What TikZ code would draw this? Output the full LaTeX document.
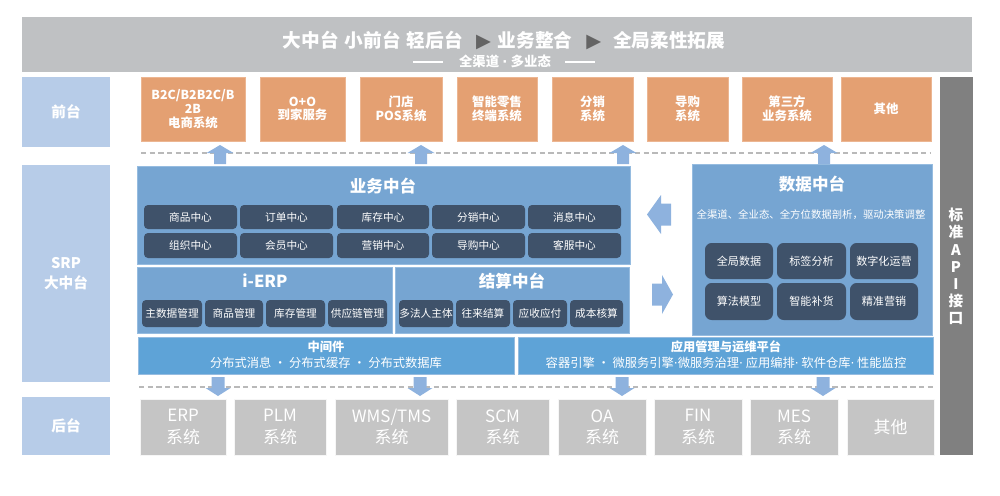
\documentclass[tikz,border=0pt]{standalone}
\usepackage{fontspec}
\setmainfont{Noto Sans CJK SC}
\newfontfamily\djv{DejaVu Sans}
\definecolor{bannerc}{RGB}{191,193,195}
\definecolor{lblue}{RGB}{183,204,232}
\definecolor{orangec}{RGB}{228,160,114}
\definecolor{orangeb}{RGB}{236,182,146}
\definecolor{bluec}{RGB}{118,165,210}
\definecolor{blueb}{RGB}{150,188,224}
\definecolor{darkc}{RGB}{63,82,106}
\definecolor{midc}{RGB}{94,163,215}
\definecolor{grayc}{RGB}{197,197,197}
\definecolor{apic}{RGB}{128,128,128}
\definecolor{arrowc}{RGB}{142,178,222}
\definecolor{dashc}{RGB}{185,185,185}
\definecolor{tric}{RGB}{100,100,100}
\newcommand\upArr[1]{\fill[arrowc] ({#1-6},164) -- ({#1-6},153) -- ({#1-13.5},153) -- (#1,145) -- ({#1+13.5},153) -- ({#1+6},153) -- ({#1+6},164) -- cycle;}
\newcommand\dnArr[1]{\fill[arrowc] ({#1-6.5},377) -- ({#1-6.5},388) -- ({#1-12.5},388) -- (#1,396) -- ({#1+12.5},388) -- ({#1+6.5},388) -- ({#1+6.5},377) -- cycle;}
% box from pixel corners: style, name, x1, y1, x2, y2, text
\newcommand\bx[7]{\node[#1, minimum width={(#5-#3)*0.75pt}, minimum height={(#6-#4)*0.75pt}] (#2) at ({(#3+#5)/2},{(#4+#6)/2}) {#7};}
\newcommand\tri{{\djv\fontsize{14.5}{14.5}\selectfont\color{tric}▶}}
\newcommand\ndot{{\djv·}}
\begin{document}
\begin{tikzpicture}[x=0.75pt,y=-0.75pt,
  lbl/.style={fill=lblue, text=white, font=\bfseries\fontsize{11}{15}\selectfont, inner sep=0pt, align=center},
  obox/.style={fill=orangec, draw=orangeb, line width=0.6pt, text=white, font=\bfseries\fontsize{9.3}{10.3}\selectfont, align=center, inner sep=0pt},
  bigb/.style={fill=bluec, draw=blueb, line width=0.5pt, inner sep=0pt},
  dbox/.style={fill=darkc, rounded corners=3pt, text=white, font=\fontsize{8}{9}\selectfont, inner sep=0pt},
  ddbox/.style={fill=darkc, rounded corners=5pt, text=white, font=\fontsize{8.3}{10}\selectfont, inner sep=0pt},
  ttl/.style={text=white, font=\bfseries\fontsize{12.4}{14}\selectfont, inner sep=0pt},
  mbox/.style={fill=midc, draw=blueb, line width=0.5pt, inner sep=0pt},
  mtxt/.style={text=white, align=center, font=\fontsize{9.2}{12}\selectfont, inner sep=0pt},
  gbox/.style={fill=grayc, draw=white!85!grayc, line width=0.5pt, text=white, font=\fontsize{12.7}{16}\selectfont, align=center, inner sep=0pt},
  dsh/.style={draw=dashc, line width=0.8pt, dash pattern=on 4pt off 2.5pt},
  wline/.style={draw=white, line width=0.8pt}]
\useasboundingbox (0,0) rectangle (1000,496);
% banner
\bx{fill=bannerc, inner sep=0pt}{banner}{22}{17}{972}{72}{}
\node[text=white, font=\bfseries\fontsize{14}{16}\selectfont, inner sep=0pt] (title) at (504,40) {大中台\hspace{4.5pt}小前台\hspace{4.5pt}轻后台\hspace{10pt}\tri\hspace{5pt}业务整合\hspace{10.5pt}\tri\hspace{9pt}全局柔性拓展};
\node[text=white, font=\bfseries\fontsize{10}{12}\selectfont, inner sep=0pt] (subtitle) at (505,61.5) {全渠道\hspace{2.5pt}\ndot\hspace{2.5pt}多业态};
\coordinate (sl1) at (413,62);
\coordinate (sl2) at (443,62);
\coordinate (sr1) at (565,62);
\coordinate (sr2) at (595,62);
\draw[wline] (sl1) -- (sl2);
\draw[wline] (sr1) -- (sr2);
% left labels
\bx{lbl}{front}{22}{77}{110}{147}{前台}
\bx{lbl}{srp}{22}{165}{110}{382}{SRP\\大中台}
\bx{lbl}{back}{22}{397}{110}{455}{后台}
% API bar
\bx{fill=apic, inner sep=0pt}{apibar}{940}{77}{973}{455}{}
\node[text=white, font=\bfseries\fontsize{11}{12.9}\selectfont, align=center, inner sep=0pt] (apitext) at (956,266.5) {标\\准\\A\\P\\I\\接\\口};
% front boxes
\bx{obox}{f1}{141}{77}{245}{141}{B2C/B2B2C/B\\2B\\电商系统}
\bx{obox}{f2}{260}{77}{345}{141}{O+O\\到家服务}
\bx{obox}{f3}{360}{77}{442}{141}{门店\\POS系统}
\bx{obox}{f4}{457}{77}{537}{141}{智能零售\\终端系统}
\bx{obox}{f5}{552}{77}{633}{141}{分销\\系统}
\bx{obox}{f6}{647}{77}{728}{141}{导购\\系统}
\bx{obox}{f7}{742}{77}{832}{141}{第三方\\业务系统}
\bx{obox}{f8}{841}{77}{931}{141}{其他}
% dashed line top
\coordinate (dt1) at (141,153);
\coordinate (dt2) at (931,153);
\draw[dsh] (dt1) -- (dt2);
% business middle
\bx{bigb}{biz}{137}{166}{630}{264}{}
\node[ttl] (biztitle) at (383,186) {业务中台};
\bx{dbox}{b1}{144}{205}{237}{229}{商品中心}
\bx{dbox}{b2}{240}{205}{333}{229}{订单中心}
\bx{dbox}{b3}{337}{205}{429}{229}{库存中心}
\bx{dbox}{b4}{432}{205}{525}{229}{分销中心}
\bx{dbox}{b5}{528}{205}{621}{229}{消息中心}
\bx{dbox}{b6}{144}{233}{237}{258}{组织中心}
\bx{dbox}{b7}{240}{233}{333}{258}{会员中心}
\bx{dbox}{b8}{337}{233}{429}{258}{营销中心}
\bx{dbox}{b9}{432}{233}{525}{258}{导购中心}
\bx{dbox}{b10}{528}{233}{621}{258}{客服中心}
% i-ERP
\bx{bigb}{ierp}{137}{267}{392}{333}{}
\node[ttl] (ierptitle) at (265,281) {i-ERP};
\bx{dbox}{e1}{142}{300}{202}{327}{主数据管理}
\bx{dbox}{e2}{205}{300}{263}{327}{商品管理}
\bx{dbox}{e3}{266}{300}{325}{327}{库存管理}
\bx{dbox}{e4}{328}{300}{387}{327}{供应链管理}
% settlement
\bx{bigb}{settle}{395}{267}{629}{333}{}
\node[ttl] (settletitle) at (512,281) {结算中台};
\bx{dbox}{s1}{399}{300}{453}{327}{多法人主体}
\bx{dbox}{s2}{456}{300}{510}{327}{往来结算}
\bx{dbox}{s3}{513}{300}{567}{327}{应收应付}
\bx{dbox}{s4}{570}{300}{623}{327}{成本核算}
% data middle
\bx{bigb}{data}{692}{164}{932}{335}{}
\node[ttl] (datatitle) at (812,184) {数据中台};
\node[text=white, font=\fontsize{7.8}{9}\selectfont, inner sep=0pt] (datasub) at (811,215) {全渠道、全业态、全方位数据剖析，驱动决策调整};
\bx{ddbox}{d1}{705}{243}{773}{279}{全局数据}
\bx{ddbox}{d2}{777}{243}{846}{279}{标签分析}
\bx{ddbox}{d3}{850}{243}{918}{279}{数字化运营}
\bx{ddbox}{d4}{705}{283}{773}{320}{算法模型}
\bx{ddbox}{d5}{777}{283}{846}{320}{智能补货}
\bx{ddbox}{d6}{850}{283}{918}{320}{精准营销}
% side arrows
\fill[arrowc] (647,214.5) -- (661,195) -- (661,203.5) -- (671,203.5) -- (671,225.5) -- (661,225.5) -- (661,234) -- cycle;
\fill[arrowc] (673,294.5) -- (662,275) -- (662,283.5) -- (652,283.5) -- (652,305.5) -- (662,305.5) -- (662,314) -- cycle;
% middleware
\bx{mbox}{mid}{138}{337}{514}{374}{}
\node[mtxt] (midtext) at (326,355) {\textbf{中间件}\\分布式消息 · 分布式缓存 · 分布式数据库};
\bx{mbox}{ops}{518}{337}{933}{374}{}
\node[mtxt] (opstext) at (726,355) {\textbf{应用管理与运维平台}\\容器引擎 · 微服务引擎\ndot 微服务治理\ndot\ 应用编排\ndot\ 软件仓库\ndot\ 性能监控};
% up arrows
\upArr{220}
\upArr{421}
\upArr{623}
\upArr{824}
% dashed line bottom
\coordinate (db1) at (139,387);
\coordinate (db2) at (933,387);
\draw[dsh] (db1) -- (db2);
\dnArr{218}
\dnArr{420}
\dnArr{622}
\dnArr{823}
% back boxes
\bx{gbox}{g1}{140}{399}{226}{455}{ERP\\系统}
\bx{gbox}{g2}{234}{399}{326}{455}{PLM\\系统}
\bx{gbox}{g3}{335}{399}{448}{455}{WMS/TMS\\系统}
\bx{gbox}{g4}{456}{399}{549}{455}{SCM\\系统}
\bx{gbox}{g5}{558}{399}{646}{455}{OA\\系统}
\bx{gbox}{g6}{654}{399}{742}{455}{FIN\\系统}
\bx{gbox}{g7}{750}{399}{838}{455}{MES\\系统}
\bx{gbox}{g8}{847}{399}{934}{455}{其他}
\end{tikzpicture}
\end{document}
